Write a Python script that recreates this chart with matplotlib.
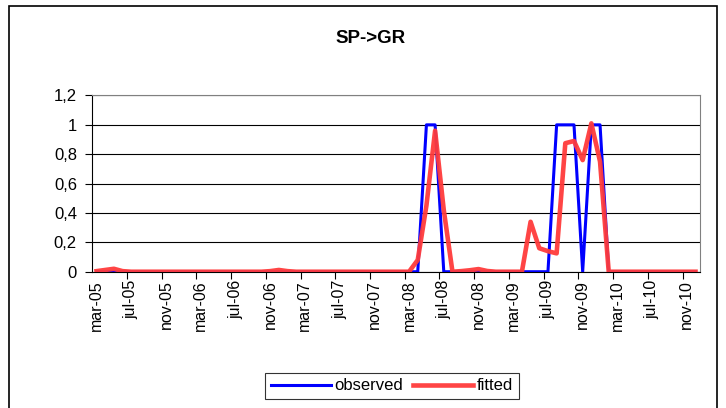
import matplotlib
matplotlib.use('Agg')
import matplotlib.pyplot as plt
import matplotlib.patches as patches
import numpy as np

plt.rcParams['font.family'] = ['Liberation Sans', 'DejaVu Sans']

# monthly categories mar-05 .. dec-10
months = ['jan', 'feb', 'mar', 'apr', 'may', 'jun', 'jul', 'aug', 'sep', 'oct', 'nov', 'dec']
labels = []
for yr in range(5, 11):
    for m in months:
        labels.append(m + '-' + '%02d' % yr)
labels = labels[2:]  # start at mar-05

observed = [0]*38 + [1, 1] + [0]*13 + [1, 1, 1, 0, 1, 1] + [0]*11
fitted = [0.004, 0.012, 0.02, 0.004, 0, 0, 0, 0, 0, 0,
          0, 0, 0, 0, 0, 0, 0, 0, 0, 0,
          0.004, 0.012, 0.004, 0, 0, 0, 0, 0, 0, 0,
          0, 0, 0, 0, 0, 0, 0, 0.08, 0.45, 0.96,
          0.42, 0, 0.004, 0.01, 0.018, 0.005, 0, 0, 0, 0,
          0.34, 0.16, 0.14, 0.125, 0.875, 0.89, 0.76, 1.01, 0.75, 0,
          0, 0, 0, 0, 0, 0, 0, 0, 0, 0]

x = np.arange(len(labels))

fig = plt.figure(figsize=(7.26, 4.08), dpi=100)
ax = fig.add_axes([0.127, 0.334, 0.837, 0.432])

# outer chart border
fig.patches.append(patches.Rectangle((9/726, -0.05), (717-9)/726, 1.05 - 6/408,
                                     transform=fig.transFigure, fill=False,
                                     edgecolor='black', linewidth=1.2))

ax.plot(x, observed, color='#0000ff', linewidth=2.2, label='observed', zorder=3)
ax.plot(x, fitted, color='#ff3b3b', linewidth=3.3, alpha=0.95, label='fitted', zorder=4)

ax.set_xlim(-0.5, len(labels) - 0.5)
ax.set_ylim(0, 1.2)
yt = [0, 0.2, 0.4, 0.6, 0.8, 1, 1.2]
ax.set_yticks(yt)
ax.set_yticklabels(['0', '0,2', '0,4', '0,6', '0,8', '1', '1,2'], fontsize=12)
ax.tick_params(axis='y', direction='out', length=5, width=0.8, pad=6)
ax.grid(axis='y', color='black', linewidth=0.8)
ax.set_axisbelow(True)

# tick marks between categories, labels on every 4th category
ax.set_xticks(np.arange(3.5, len(labels), 4))
ax.set_xticklabels([])
ax.set_xticks(x[::4], minor=True)
ax.set_xticklabels(labels[::4], minor=True, rotation=90, fontsize=11.5)
ax.tick_params(axis='x', which='major', direction='out', length=5, width=0.8)
ax.tick_params(axis='x', which='minor', length=0, pad=6)

ax.spines['left'].set_color('black')
ax.spines['bottom'].set_color('black')
ax.spines['top'].set_color('#808080')
ax.spines['right'].set_color('#808080')

fig.text(0.51, 0.905, 'SP->GR', ha='center', va='center', fontsize=13.5, fontweight='bold')

leg = fig.legend(loc='center', bbox_to_anchor=(0.54, 0.054), ncol=2, fontsize=12,
                 frameon=True, fancybox=False, edgecolor='black', handlelength=3.6,
                 handletextpad=0.2, columnspacing=0.6, borderpad=0.35)
leg.get_frame().set_linewidth(0.8)

fig.savefig('out.png', dpi=100)
